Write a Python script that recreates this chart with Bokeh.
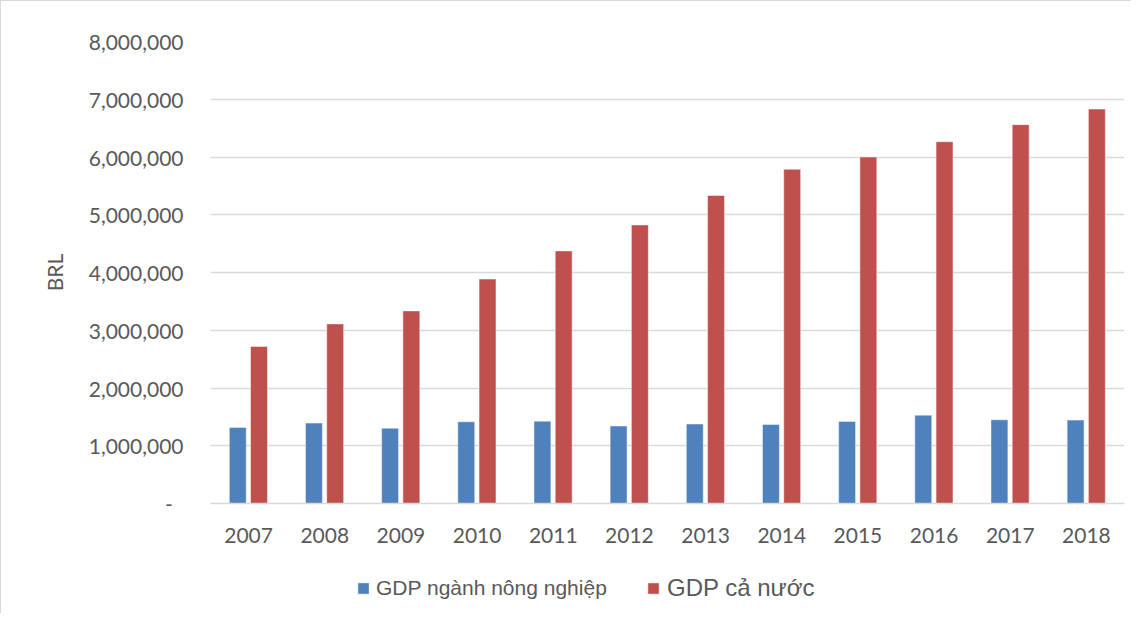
from bokeh.plotting import figure
from bokeh.layouts import column
from bokeh.models import Legend, LegendItem, FixedTicker, FactorRange, Range1d, ColumnDataSource
from bokeh.transform import dodge
from bokeh.embed import file_html
from bokeh.resources import INLINE

years = ["2007", "2008", "2009", "2010", "2011", "2012",
         "2013", "2014", "2015", "2016", "2017", "2018"]
gdp_agri = [1317000, 1392000, 1305000, 1414000, 1426000, 1341000,
            1376000, 1369000, 1421000, 1530000, 1449000, 1444000]
gdp_total = [2719000, 3110000, 3335000, 3886000, 4374000, 4822000,
             5333000, 5788000, 6000000, 6264000, 6560000, 6830000]
y_ticks = [0, 1000000, 2000000, 3000000, 4000000, 5000000, 6000000, 7000000, 8000000]
y_tick_labels = ["-\u00a0\u00a0", "1,000,000", "2,000,000", "3,000,000", "4,000,000",
                 "5,000,000", "6,000,000", "7,000,000", "8,000,000"]
series_names = ["GDP ngành nông nghiệp", "GDP cả nước"]

BLUE = "#4F81BD"
RED = "#C0504D"
TXT = "#595959"
GRID = "#D9D9D9"

src = ColumnDataSource(dict(year=years, agri=gdp_agri, total=gdp_total))

p = figure(width=1130, height=560, output_backend="svg", toolbar_location=None,
           x_range=FactorRange(*years, range_padding=0, factor_padding=0),
           y_range=Range1d(0, 8000000),
           min_border_left=209, min_border_right=7, min_border_top=40, min_border_bottom=58)
p.outline_line_color = None

bar_style = dict(width=0.222, line_color="white", line_alpha=0.45, line_width=1)
r1 = p.vbar(x=dodge("year", -0.142, range=p.x_range), top="agri", source=src,
            fill_color=BLUE, **bar_style)
r2 = p.vbar(x=dodge("year", 0.137, range=p.x_range), top="total", source=src,
            fill_color=RED, **bar_style)

p.xgrid.grid_line_color = None
p.ygrid.grid_line_color = GRID
p.ygrid.grid_line_width = 1.3
p.ygrid.ticker = FixedTicker(ticks=y_ticks)

p.yaxis.ticker = FixedTicker(ticks=y_ticks)
p.yaxis.major_label_overrides = {t: l for t, l in zip(y_ticks, y_tick_labels)}
p.yaxis.axis_line_color = None
p.yaxis.major_tick_line_color = None
p.yaxis.minor_tick_line_color = None
p.yaxis.major_label_standoff = 21
p.yaxis.axis_label = "BRL"
p.yaxis.axis_label_standoff = 19
p.yaxis.axis_label_text_font = "Lato"
p.yaxis.axis_label_text_font_size = "21px"
p.yaxis.axis_label_text_font_style = "normal"
p.yaxis.axis_label_text_color = TXT

p.xaxis.axis_line_color = GRID
p.xaxis.axis_line_width = 1.3
p.xaxis.major_tick_line_color = None
p.xaxis.minor_tick_line_color = None
p.xaxis.major_label_standoff = 18

for ax in (p.xaxis, p.yaxis):
    ax.major_label_text_font = "Lato"
    ax.major_label_text_font_size = "21px"
    ax.major_label_text_color = TXT

# legend strip below the chart (zero-height proxy bars carry the legend styles)
lg = figure(width=1130, height=52, output_backend="svg", toolbar_location=None,
            x_range=Range1d(0, 1), y_range=Range1d(0, 1),
            x_axis_location=None, y_axis_location=None,
            min_border_left=0, min_border_right=0, min_border_top=0, min_border_bottom=0)
lg.grid.visible = False
lg.outline_line_color = None
k1 = lg.vbar(x=[0.5], top=[0], fill_color=BLUE, **bar_style)
k2 = lg.vbar(x=[0.5], top=[0], fill_color=RED, **bar_style)

leg1 = Legend(items=[LegendItem(label=series_names[0], renderers=[k1])],
              location=(146, 13), label_text_font="Liberation Sans",
              label_text_font_size="21px", label_text_color=TXT,
              glyph_width=14, glyph_height=14, label_standoff=6, label_height=24,
              padding=0, margin=0, border_line_color=None, background_fill_alpha=0)
leg2 = Legend(items=[LegendItem(label=series_names[1], renderers=[k2])],
              location=(436, 11), label_text_font="Liberation Sans",
              label_text_font_size="24px", label_text_color=TXT,
              glyph_width=14, glyph_height=14, label_standoff=7, label_height=28,
              padding=0, margin=0, border_line_color=None, background_fill_alpha=0)
lg.add_layout(leg1, "center")
lg.add_layout(leg2, "center")

layout = column(p, lg, spacing=0)
layout.styles = {"border-left": "1px solid #D9D9D9", "border-top": "1px solid #D9D9D9"}

open("out.html", "w").write(file_html(layout, INLINE))
